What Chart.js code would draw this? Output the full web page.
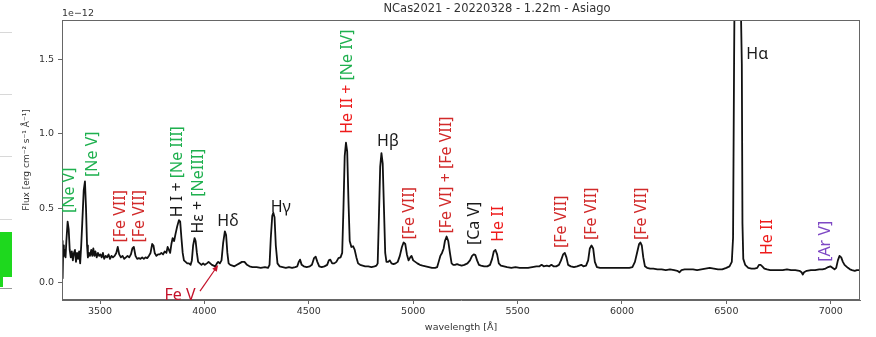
<!DOCTYPE html>
<html>
<head>
<meta charset="utf-8">
<script src="https://cdn.jsdelivr.net/npm/chart.js@4.4.1/dist/chart.umd.min.js"></script>
<style>
  body { margin: 0; background: #fff; }
  #wrap { position: relative; width: 876px; height: 337px; }
  canvas { background: #fff; }
  .rule { position: absolute; left: 0; width: 12px; height: 1px; background: #d8d8d8; }
  .blob { position: absolute; left: 0; width: 12px; background: #1ed81e; }
</style>
</head>
<body>
<div id="wrap">
  <canvas id="spec" width="876" height="337"></canvas>
  <!-- cropped bit of a neighbouring figure on the left edge -->
  <div class="rule" style="top:32px"></div>
  <div class="rule" style="top:94px"></div>
  <div class="rule" style="top:156px"></div>
  <div class="rule" style="top:219px"></div>
  <div class="blob" style="top:232px;height:45px"></div>
  <div class="blob" style="top:277px;height:10px;width:3px"></div>
  <div class="rule" style="top:288px;background:#999"></div>
</div>
<script>
// wavelength in Angstrom, flux in units of 1e-12 erg cm-2 s-1 A-1
const wavelength = [
  3319, 3321, 3324, 3327, 3331, 3335, 3339, 3345, 3350, 3355, 3360, 3365, 3370, 3375, 3380, 3385,
  3390, 3395, 3400, 3405, 3410, 3415, 3422, 3428, 3433, 3438, 3442, 3447, 3452, 3458, 3463, 3468,
  3473, 3478, 3484, 3490, 3496, 3502, 3508, 3514, 3520, 3527, 3534, 3541, 3548, 3555, 3562, 3570,
  3578, 3585, 3592, 3600, 3608, 3616, 3624, 3632, 3640, 3648, 3655, 3662, 3670, 3678, 3686, 3694,
  3702, 3710, 3718, 3726, 3734, 3742, 3750, 3756, 3762, 3770, 3778, 3786, 3794, 3802, 3810, 3818,
  3824, 3830, 3836, 3842, 3848, 3855, 3862, 3870, 3878, 3884, 3890, 3896, 3902, 3910, 3918, 3926,
  3934, 3940, 3946, 3953, 3958, 3964, 3970, 3978, 3986, 3994, 4002, 4012, 4020, 4028, 4036, 4044,
  4052, 4060, 4066, 4074, 4082, 4090, 4098, 4104, 4110, 4116, 4124, 4134, 4144, 4156, 4168, 4180,
  4192, 4204, 4216, 4230, 4250, 4270, 4290, 4305, 4312, 4318, 4325, 4330, 4336, 4342, 4350, 4360,
  4375, 4390, 4405, 4420, 4435, 4445, 4452, 4458, 4466, 4476, 4490, 4505, 4515, 4525, 4533, 4541,
  4550, 4562, 4575, 4588, 4596, 4603, 4612, 4622, 4632, 4642, 4652, 4660, 4666, 4672, 4678, 4684,
  4690, 4696, 4704, 4712, 4720, 4728, 4736, 4746, 4758, 4770, 4785, 4800, 4815, 4824, 4830, 4836,
  4842, 4848, 4854, 4860, 4866, 4872, 4880, 4888, 4896, 4906, 4916, 4926, 4936, 4946, 4954, 4962,
  4970, 4978, 4986, 4992, 5000, 5010, 5020, 5032, 5045, 5060, 5075, 5090, 5105, 5115, 5122, 5130,
  5138, 5146, 5152, 5160, 5168, 5176, 5184, 5192, 5200, 5210, 5220, 5232, 5245, 5260, 5272, 5282,
  5290, 5298, 5306, 5315, 5325, 5340, 5355, 5368, 5378, 5386, 5394, 5402, 5410, 5420, 5435, 5450,
  5470, 5490, 5510, 5530, 5550, 5570, 5590, 5605, 5615, 5625, 5640, 5652, 5662, 5672, 5685, 5698,
  5708, 5718, 5726, 5734, 5742, 5755, 5770, 5785, 5795, 5805, 5815, 5828, 5838, 5846, 5854, 5862,
  5870, 5880, 5895, 5915, 5935, 5955, 5975, 5995, 6015, 6035, 6050, 6062, 6072, 6082, 6088, 6095,
  6102, 6110, 6120, 6135, 6150, 6170, 6190, 6210, 6230, 6250, 6265, 6275, 6285, 6300, 6320, 6340,
  6360, 6380, 6400, 6420, 6440, 6460, 6480, 6500, 6515, 6526, 6532, 6537, 6542, 6552, 6562, 6570,
  6574, 6577, 6581, 6590, 6605, 6620, 6635, 6648, 6656, 6664, 6672, 6682, 6695, 6710, 6730, 6750,
  6770, 6790, 6810, 6830, 6850, 6860, 6866, 6872, 6885, 6905, 6925, 6945, 6960, 6975, 6988, 6998,
  7008, 7018, 7026, 7034, 7042, 7050, 7058, 7066, 7074, 7082, 7092, 7102, 7115, 7125, 7140
];
const flux = [
  0.28, 0.03, 0.25, 0.18, 0.22, 0.17, 0.28, 0.41, 0.36, 0.22, 0.17, 0.21, 0.15, 0.20, 0.22, 0.14,
  0.20, 0.16, 0.21, 0.13, 0.25, 0.40, 0.62, 0.68, 0.50, 0.25, 0.17, 0.20, 0.18, 0.22, 0.18, 0.23,
  0.18, 0.21, 0.17, 0.20, 0.18, 0.19, 0.17, 0.20, 0.16, 0.18, 0.17, 0.19, 0.16, 0.18, 0.17, 0.18,
  0.20, 0.24, 0.19, 0.17, 0.18, 0.16, 0.17, 0.18, 0.17, 0.19, 0.23, 0.24, 0.18, 0.16, 0.165, 0.16,
  0.17, 0.16, 0.17, 0.165, 0.18, 0.20, 0.26, 0.25, 0.20, 0.18, 0.19, 0.19, 0.20, 0.19, 0.21, 0.20,
  0.24, 0.22, 0.20, 0.26, 0.30, 0.28, 0.33, 0.38, 0.42, 0.41, 0.30, 0.20, 0.15, 0.14, 0.13, 0.13,
  0.12, 0.15, 0.25, 0.30, 0.28, 0.20, 0.14, 0.13, 0.12, 0.13, 0.12, 0.13, 0.14, 0.13, 0.12, 0.115,
  0.11, 0.13, 0.14, 0.13, 0.15, 0.27, 0.345, 0.32, 0.20, 0.13, 0.12, 0.115, 0.11, 0.12, 0.13, 0.14,
  0.14, 0.12, 0.11, 0.105, 0.105, 0.10, 0.105, 0.10, 0.12, 0.30, 0.45, 0.47, 0.44, 0.25, 0.13, 0.11,
  0.105, 0.10, 0.105, 0.10, 0.105, 0.11, 0.14, 0.155, 0.12, 0.11, 0.105, 0.11, 0.12, 0.165, 0.175, 0.14,
  0.11, 0.105, 0.11, 0.12, 0.15, 0.155, 0.13, 0.13, 0.14, 0.165, 0.17, 0.20, 0.50, 0.85, 0.94, 0.88,
  0.55, 0.28, 0.24, 0.245, 0.22, 0.17, 0.13, 0.12, 0.115, 0.11, 0.11, 0.105, 0.11, 0.115, 0.13, 0.45,
  0.78, 0.87, 0.80, 0.50, 0.20, 0.14, 0.14, 0.15, 0.13, 0.125, 0.13, 0.14, 0.18, 0.24, 0.27, 0.26,
  0.19, 0.15, 0.17, 0.18, 0.15, 0.14, 0.13, 0.12, 0.115, 0.11, 0.105, 0.10, 0.10, 0.105, 0.14, 0.18,
  0.20, 0.23, 0.28, 0.31, 0.28, 0.20, 0.13, 0.12, 0.12, 0.125, 0.12, 0.115, 0.12, 0.13, 0.15, 0.18,
  0.19, 0.185, 0.15, 0.12, 0.115, 0.11, 0.11, 0.12, 0.16, 0.21, 0.22, 0.19, 0.13, 0.115, 0.11, 0.105,
  0.10, 0.105, 0.10, 0.10, 0.10, 0.105, 0.11, 0.11, 0.12, 0.11, 0.115, 0.11, 0.12, 0.11, 0.11, 0.12,
  0.15, 0.19, 0.20, 0.17, 0.12, 0.11, 0.105, 0.11, 0.115, 0.12, 0.11, 0.115, 0.15, 0.23, 0.25, 0.23,
  0.14, 0.105, 0.10, 0.10, 0.10, 0.10, 0.10, 0.10, 0.10, 0.10, 0.105, 0.14, 0.20, 0.26, 0.27, 0.25,
  0.17, 0.11, 0.10, 0.095, 0.095, 0.09, 0.09, 0.085, 0.09, 0.085, 0.08, 0.07, 0.085, 0.09, 0.09, 0.09,
  0.085, 0.09, 0.095, 0.10, 0.095, 0.09, 0.09, 0.10, 0.11, 0.14, 0.30, 1.50, 2.50, 3.00, 2.60, 1.80,
  1.47, 0.40, 0.16, 0.12, 0.10, 0.095, 0.095, 0.10, 0.12, 0.12, 0.11, 0.095, 0.09, 0.085, 0.085, 0.085,
  0.085, 0.09, 0.085, 0.085, 0.08, 0.07, 0.055, 0.07, 0.08, 0.085, 0.085, 0.09, 0.09, 0.095, 0.105, 0.11,
  0.10, 0.09, 0.10, 0.15, 0.18, 0.17, 0.14, 0.12, 0.11, 0.10, 0.09, 0.085, 0.08, 0.085, 0.085
];
const xTicks = [3500, 4000, 4500, 5000, 5500, 6000, 6500, 7000];
const yTicks = [0.0, 0.5, 1.0, 1.5];

const BLACK = '#1a1a1a';
const GREEN = '#1fb04f';
const RED = '#ee1c1c';
const DARKRED = '#d22a2a';
const PURPLE = '#7e48c4';

// line identifications: anchor (wavelength, flux) is the start of the text
const lineLabels = [
  { w: 3356, f: 0.468, up: true, parts: [['[Ne V]', GREEN]] },
  { w: 3466, f: 0.71, up: true, parts: [['[Ne V]', GREEN]] },
  { w: 3596, f: 0.27, up: true, parts: [['[Fe VII]', DARKRED]] },
  { w: 3691, f: 0.27, up: true, parts: [['[Fe VII]', DARKRED]] },
  { w: 3873, f: 0.44, up: true, parts: [['H I + ', BLACK], ['[Ne III]', GREEN]] },
  { w: 3970, f: 0.33, up: true, parts: [['H\u03b5 + ', BLACK], ['[NeIII]', GREEN]] },
  { w: 4113, f: 0.41, up: false, parts: [['H\u03b4', BLACK]] },
  { w: 4366, f: 0.505, up: false, parts: [['H\u03b3', BLACK]] },
  { w: 4685, f: 1.0, up: true, parts: [['He II + ', RED], ['[Ne IV]', GREEN]] },
  { w: 4879, f: 0.946, up: false, parts: [['H\u03b2', BLACK]] },
  { w: 4984, f: 0.29, up: true, parts: [['[Fe VII]', DARKRED]] },
  { w: 5160, f: 0.33, up: true, parts: [['[Fe VI] + [Fe VII]', DARKRED]] },
  { w: 5295, f: 0.253, up: true, parts: [['[Ca V]', BLACK]] },
  { w: 5410, f: 0.275, up: true, parts: [['He II', RED]] },
  { w: 5711, f: 0.233, up: true, parts: [['[Fe VII]', DARKRED]] },
  { w: 5855, f: 0.287, up: true, parts: [['[Fe VII]', DARKRED]] },
  { w: 6094, f: 0.287, up: true, parts: [['[Fe VII]', DARKRED]] },
  { w: 6648, f: 1.53, up: false, parts: [['H\u03b1', BLACK]] },
  { w: 6695, f: 0.186, up: true, parts: [['He II', RED]] },
  { w: 6975, f: 0.14, up: true, parts: [['[Ar V]', PURPLE]] },
  { w: 3883, f: -0.083, up: false, parts: [['Fe V', '#c4122a']] }
];
// arrow from the "Fe V" label to the weak line
const feArrow = { from: [3979, -0.056], to: [4066, 0.119] };

const labelFont = '16px "Noto Sans"';

const annotate = {
  id: 'annotate',
  afterDatasetsDraw(chart) {
    const { ctx, chartArea: a, scales: { x, y } } = chart;
    ctx.save();
    // frame like matplotlib spines
    ctx.strokeStyle = '#666';
    ctx.lineWidth = 1;
    ctx.strokeRect(a.left + 0.5, a.top + 0.5, a.right - a.left - 1, a.bottom - a.top - 1);

    ctx.font = labelFont;
    ctx.textBaseline = 'middle';
    lineLabels.forEach(l => {
      const px = x.getPixelForValue(l.w);
      const py = y.getPixelForValue(l.f);
      ctx.save();
      ctx.translate(px, py);
      let off = 0;
      if (l.up) {
        ctx.rotate(-Math.PI / 2);
      } else {
        const total = l.parts.reduce((s, p) => s + ctx.measureText(p[0]).width, 0);
        off = -total / 2;
      }
      ctx.textAlign = 'left';
      l.parts.forEach(([txt, col]) => {
        ctx.fillStyle = col;
        ctx.fillText(txt, off, 0);
        off += ctx.measureText(txt).width;
      });
      ctx.restore();
    });

    const x0 = x.getPixelForValue(feArrow.from[0]), y0 = y.getPixelForValue(feArrow.from[1]);
    const x1 = x.getPixelForValue(feArrow.to[0]), y1 = y.getPixelForValue(feArrow.to[1]);
    const ang = Math.atan2(y1 - y0, x1 - x0);
    ctx.strokeStyle = '#c4122a';
    ctx.fillStyle = '#c4122a';
    ctx.lineWidth = 1.2;
    ctx.beginPath();
    ctx.moveTo(x0, y0);
    ctx.lineTo(x1 - 4 * Math.cos(ang), y1 - 4 * Math.sin(ang));
    ctx.stroke();
    ctx.beginPath();
    ctx.moveTo(x1, y1);
    ctx.lineTo(x1 - 7 * Math.cos(ang - 0.4), y1 - 7 * Math.sin(ang - 0.4));
    ctx.lineTo(x1 - 7 * Math.cos(ang + 0.4), y1 - 7 * Math.sin(ang + 0.4));
    ctx.closePath();
    ctx.fill();

    // title and offset text
    ctx.fillStyle = '#333';
    ctx.font = '11.5px "DejaVu Sans"';
    ctx.textAlign = 'center';
    ctx.textBaseline = 'middle';
    ctx.fillText('NCas2021 - 20220328 - 1.22m - Asiago', 497, 9.5);
    ctx.font = '9.5px "DejaVu Sans"';
    ctx.textAlign = 'left';
    ctx.textBaseline = 'alphabetic';
    ctx.fillText('1e\u221212', a.left, 16);
    ctx.restore();
  }
};

const ctx = document.getElementById('spec').getContext('2d');
new Chart(ctx, {
  type: 'line',
  data: {
    datasets: [{
      data: wavelength.map((w, i) => ({ x: w, y: flux[i] })),
      borderColor: '#111',
      borderWidth: 1.8,
      borderJoinStyle: 'round',
      pointRadius: 0,
      tension: 0,
      fill: false
    }]
  },
  options: {
    responsive: false,
    animation: false,
    devicePixelRatio: 1,
    layout: { padding: { top: 20, right: 16, left: 0, bottom: 0 } },
    plugins: { legend: { display: false }, tooltip: { enabled: false }, title: { display: false } },
    scales: {
      x: {
        type: 'linear',
        min: 3318,
        max: 7140,
        afterBuildTicks: s => { s.ticks = xTicks.map(v => ({ value: v })); },
        afterFit: s => { s.height = 37; },
        ticks: {
          font: { family: 'DejaVu Sans', size: 9.5 },
          color: '#333',
          padding: 2,
          maxRotation: 0,
          callback: v => String(v)
        },
        grid: { drawOnChartArea: false, tickLength: 4, color: '#666' },
        border: { color: '#666' },
        title: {
          display: true,
          text: 'wavelength [\u00c5]',
          font: { family: 'DejaVu Sans', size: 9.5 },
          color: '#333',
          padding: { top: 0, bottom: 4 }
        }
      },
      y: {
        min: -0.116,
        max: 1.764,
        afterBuildTicks: s => { s.ticks = yTicks.map(v => ({ value: v })); },
        afterFit: s => { s.width = 62; },
        ticks: {
          font: { family: 'DejaVu Sans', size: 9.5 },
          color: '#333',
          padding: 4,
          callback: v => v.toFixed(1)
        },
        grid: { drawOnChartArea: false, tickLength: 4, color: '#666' },
        border: { color: '#666' },
        title: {
          display: true,
          text: 'Flux [erg cm\u207b\u00b2 s\u207b\u00b9 \u00c5\u207b\u00b9]',
          font: { family: 'DejaVu Sans', size: 9 },
          color: '#333',
          padding: { top: 21, bottom: 0 }
        }
      }
    }
  },
  plugins: [annotate]
});
</script>
</body>
</html>
